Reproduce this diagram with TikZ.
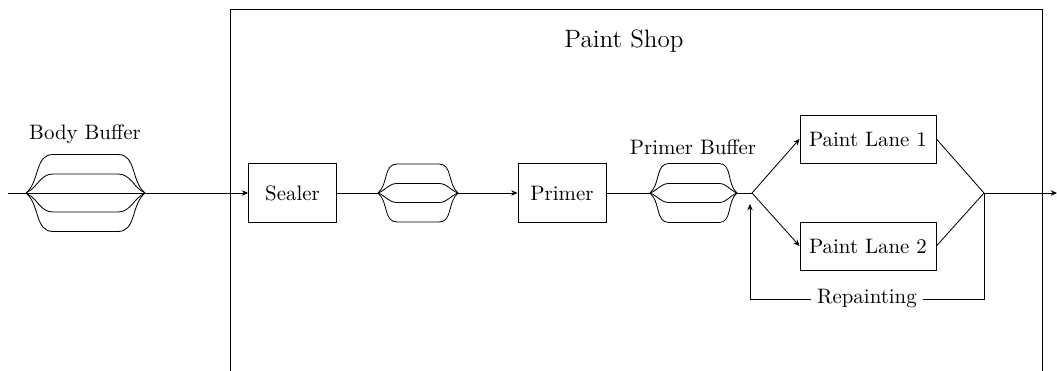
\documentclass[tikz,border=0pt]{standalone}
\usetikzlibrary{arrows.meta}
\begin{document}
\begin{tikzpicture}[x=0.4785pt,y=-0.4785pt,
  box/.style={draw,inner sep=0pt,minimum width=42.1pt,minimum height=28.4pt},
  lanebox/.style={draw,inner sep=0pt,minimum width=65.1pt,minimum height=23pt},
  arr/.style={-{Stealth[length=3pt,width=2.6pt]}},
  lbl/.style={inner sep=0pt,anchor=base}]
\useasboundingbox (0,0) rectangle (1057,371);
% Paint shop frame
\draw (230,371) -- (230,9) -- (1042,9) -- (1042,371);
\node[lbl] (shop) at (624,48) {\large Paint Shop};
% coordinates
\coordinate (start) at (8,193);
\coordinate (b1in) at (26,193);
\coordinate (b1out) at (145,193);
\coordinate (b2in) at (378,193);
\coordinate (b2out) at (458,193);
\coordinate (b3in) at (650,193);
\coordinate (b3out) at (737,193);
\coordinate (split) at (752,193);
\coordinate (merge) at (984,193);
\coordinate (end) at (1057,193);
\coordinate (repend) at (750,204);
\coordinate (rc1) at (984,299);
\coordinate (rc2) at (750,299);
% nodes
\node[box] (sealer) at (292.5,193) {Sealer};
\node[box] (primer) at (562,193) {Primer};
\node[lanebox] (lane1) at (868,139) {Paint Lane 1};
\node[lanebox] (lane2) at (868,246) {Paint Lane 2};
\node[lbl] (bblabel) at (85,139) {Body Buffer};
\node[lbl] (pblabel) at (693,155) {Primer Buffer};
% body buffer
\draw (b1in) -- (b1out);
\foreach \o/\a in {-38.5/40,-19/25,19/-25,38.5/-40}{
  \draw (b1in) to[out=\a,in=180] (53,193+\o) -- (118,193+\o) to[out=0,in=180-\a] (b1out);
}
% buffer 2
\foreach \o/\a in {-29/40,-9.5/20,9.5/-20,29/-40}{
  \draw (b2in) to[out=\a,in=180] (397,193+\o) -- (439,193+\o) to[out=0,in=180-\a] (b2out);
}
% primer buffer
\foreach \o/\a in {-29.5/40,-9.5/20,9.5/-20,29.5/-40}{
  \draw (b3in) to[out=\a,in=180] (669,193+\o) -- (719,193+\o) to[out=0,in=180-\a] (b3out);
}
% connectors
\draw (start) -- (b1in);
\draw[arr] (b1out) -- (sealer.west);
\draw (sealer.east) -- (b2in);
\draw[arr] (b2out) -- (primer.west);
\draw (primer.east) -- (b3in);
\draw (b3out) -- (split);
\draw[arr] (split) -- (lane1.west);
\draw[arr] (split) -- (lane2.west);
\draw (lane1.east) -- (merge);
\draw (lane2.east) -- (merge);
\draw[arr] (merge) -- (end);
\draw[arr] (merge) -- (rc1) -- (rc2) -- (repend);
\node[fill=white,inner xsep=3pt,inner ysep=1pt] (rep) at (867,299) {Repainting};
\end{tikzpicture}
\end{document}
